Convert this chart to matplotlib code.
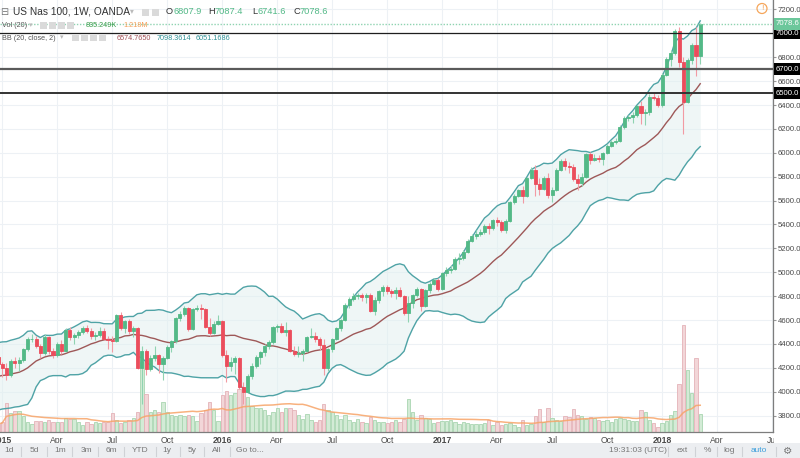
import numpy as np
import pandas as pd
import matplotlib
matplotlib.use('agg')
import matplotlib.pyplot as plt
from matplotlib.patches import Rectangle, Circle

plt.rcParams['font.family'] = ['Liberation Sans', 'DejaVu Sans']

# US Nas 100 weekly candles, first bar = week of 29 Dec 2014, last = week of 5 Mar 2018
opens = [4290, 4230, 4196, 4140, 4260, 4240, 4265, 4357, 4441, 4443, 4382, 4322, 4455, 4340, 4306, 4399, 4345, 4518, 4456, 4474,
         4496, 4536, 4509, 4469, 4471, 4505, 4445, 4437, 4424, 4641, 4534, 4589, 4510, 4532, 4197, 4344, 4190, 4285, 4308, 4230,
         4283, 4374, 4422, 4615, 4648, 4700, 4525, 4690, 4702, 4693, 4540, 4493, 4570, 4593, 4306, 4218, 4250, 4280, 4042, 3995,
         4130, 4215, 4290, 4330, 4380, 4415, 4540, 4548, 4500, 4520, 4341, 4320, 4325, 4340, 4460, 4470, 4440, 4390, 4200, 4360,
         4440, 4530, 4600, 4730, 4780, 4800, 4810, 4790, 4810, 4680, 4770, 4840, 4875, 4840, 4830, 4850, 4800, 4660, 4740, 4810,
         4860, 4720, 4850, 4900, 4935, 4863, 4990, 5020, 5030, 5110, 5120, 5170, 5260, 5300, 5320, 5340, 5385, 5370, 5436, 5420,
         5350, 5430, 5585, 5640, 5690, 5640, 5790, 5860, 5740, 5700, 5790, 5650, 5690, 5860, 5930, 5890, 5880, 5780, 5750, 5800,
         5990, 5940, 5960, 5950, 6000, 6060, 6090, 6100, 6220, 6290, 6300, 6320, 6390, 6330, 6340, 6470, 6460, 6396, 6653, 6784,
         6834, 7022, 6759, 6426, 6778, 6905, 6807.9]
highs = [4310, 4250, 4240, 4275, 4290, 4290, 4370, 4455, 4480, 4470, 4400, 4480, 4470, 4370, 4420, 4430, 4530, 4540, 4490, 4520,
         4550, 4555, 4530, 4500, 4540, 4530, 4470, 4470, 4650, 4670, 4600, 4610, 4550, 4545, 4380, 4360, 4310, 4380, 4320, 4300,
         4390, 4430, 4625, 4680, 4720, 4710, 4700, 4725, 4735, 4700, 4620, 4590, 4640, 4600, 4350, 4290, 4300, 4290, 4080, 4150,
         4240, 4310, 4340, 4400, 4430, 4550, 4570, 4575, 4585, 4525, 4380, 4380, 4360, 4470, 4530, 4500, 4460, 4440, 4370, 4450,
         4545, 4610, 4740, 4790, 4825, 4830, 4825, 4830, 4830, 4790, 4850, 4890, 4890, 4860, 4880, 4880, 4810, 4800, 4820, 4880,
         4870, 4860, 4915, 4955, 4950, 5000, 5040, 5060, 5125, 5160, 5185, 5275, 5320, 5350, 5360, 5400, 5410, 5450, 5460, 5440,
         5445, 5595, 5655, 5700, 5720, 5800, 5880, 5900, 5790, 5810, 5830, 5710, 5870, 5950, 5960, 5920, 5910, 5820, 5830, 6000,
         6005, 5990, 5985, 6010, 6070, 6110, 6120, 6235, 6310, 6320, 6340, 6400, 6430, 6370, 6490, 6500, 6480, 6670, 6800, 6860,
         7040, 7050, 6800, 6795, 6920, 7050, 7087.4]
lows = [4215, 4120, 4100, 4125, 4200, 4170, 4250, 4345, 4420, 4370, 4280, 4310, 4320, 4280, 4290, 4320, 4335, 4430, 4400, 4450,
        4485, 4490, 4440, 4430, 4460, 4435, 4360, 4330, 4420, 4520, 4490, 4480, 4460, 4190, 3900, 4140, 4170, 4260, 4160, 4100,
        4270, 4330, 4410, 4590, 4630, 4510, 4520, 4680, 4610, 4530, 4470, 4480, 4560, 4290, 4080, 4170, 4150, 4020, 3900, 3990,
        4110, 4200, 4230, 4300, 4360, 4400, 4500, 4490, 4470, 4330, 4300, 4290, 4260, 4330, 4450, 4420, 4350, 4140, 4170, 4330,
        4430, 4510, 4590, 4700, 4760, 4780, 4760, 4740, 4670, 4640, 4740, 4800, 4820, 4790, 4780, 4790, 4640, 4580, 4700, 4790,
        4680, 4710, 4830, 4890, 4840, 4855, 4970, 4990, 5020, 5070, 5100, 5160, 5250, 5280, 5300, 5320, 5320, 5350, 5390, 5340,
        5330, 5420, 5570, 5630, 5580, 5630, 5780, 5640, 5650, 5690, 5620, 5590, 5680, 5850, 5860, 5830, 5760, 5690, 5720, 5790,
        5910, 5930, 5920, 5900, 5990, 6050, 6070, 6090, 6200, 6270, 6250, 6300, 6240, 6230, 6320, 6440, 6380, 6380, 6640, 6730,
        6820, 6720, 6160, 6420, 6740, 6640, 6741.6]
closes = [4230, 4196, 4140, 4260, 4240, 4265, 4357, 4441, 4443, 4382, 4322, 4455, 4340, 4306, 4399, 4345, 4518, 4456, 4474, 4496,
          4536, 4509, 4469, 4471, 4505, 4445, 4437, 4424, 4641, 4534, 4589, 4510, 4532, 4197, 4344, 4190, 4285, 4308, 4230, 4283,
          4374, 4422, 4615, 4648, 4700, 4525, 4690, 4702, 4693, 4540, 4493, 4570, 4593, 4306, 4218, 4250, 4280, 4042, 3995, 4130,
          4215, 4290, 4330, 4380, 4415, 4540, 4548, 4500, 4520, 4341, 4320, 4325, 4340, 4460, 4470, 4440, 4390, 4200, 4360, 4440,
          4530, 4600, 4730, 4780, 4800, 4810, 4790, 4810, 4680, 4770, 4840, 4875, 4840, 4830, 4850, 4800, 4660, 4740, 4810, 4860,
          4720, 4850, 4900, 4935, 4863, 4990, 5020, 5030, 5110, 5120, 5170, 5260, 5300, 5320, 5340, 5385, 5370, 5436, 5420, 5350,
          5430, 5585, 5640, 5690, 5640, 5790, 5860, 5740, 5700, 5790, 5650, 5690, 5860, 5930, 5890, 5880, 5780, 5750, 5800, 5990,
          5940, 5960, 5950, 6000, 6060, 6090, 6100, 6220, 6290, 6300, 6320, 6390, 6330, 6340, 6470, 6460, 6396, 6653, 6784, 6834,
          7022, 6759, 6426, 6778, 6905, 6807.9, 7078.6]
# volume in thousands
volumes_k = [371, 464, 1346, 882, 974, 960, 742, 464, 371, 510, 520, 464, 557, 470, 455, 468, 650, 603, 610, 464,
             325, 470, 371, 462, 418, 466, 458, 882, 557, 418, 464, 557, 650, 928, 3248, 1763, 928, 1021, 935, 1392,
             920, 789, 742, 795, 750, 780, 738, 510, 882, 1021, 1392, 1015, 510, 1717, 1902, 1710, 1810, 1995, 2088, 1624,
             1206, 1114, 1120, 1021, 789, 928, 1114, 935, 1105, 1118, 1021, 789, 603, 835, 557, 464, 560, 1299, 1021, 928,
             789, 603, 792, 557, 464, 600, 468, 418, 696, 552, 464, 470, 418, 460, 557, 464, 603, 1531, 928, 557,
             789, 650, 603, 418, 464, 510, 515, 557, 464, 371, 462, 418, 371, 375, 368, 418, 557, 325, 464, 330,
             371, 418, 325, 232, 557, 322, 371, 742, 1067, 464, 1114, 650, 557, 510, 742, 696, 1067, 789, 745, 603,
             700, 650, 560, 510, 555, 464, 605, 648, 603, 557, 512, 508, 1021, 928, 554, 418, 232, 420, 510, 789,
             974, 2227, 4965, 2877, 1810, 3434, 835.249]
# closes of the 19 weeks before the first bar (only used to start the bands)
warmup_closes = [4040, 4082, 4093, 4070, 4120, 4040, 4030, 3860, 3820, 3990, 4120, 4150, 4230, 4300, 4335, 4300, 4170, 4300, 4290]

tick_pos = [1, 14, 27, 40, 53, 66, 79, 92, 105, 118, 131, 144, 157, 170, 183]
tick_lbl = ['2015', 'Apr', 'Jul', 'Oct', '2016', 'Apr', 'Jul', 'Oct', '2017', 'Apr', 'Jul', 'Oct', '2018', 'Apr', 'Jul']
hlines = [7000, 6700, 6500]

UP, DOWN = '#53b987', '#eb4d5c'
TXT = '#4a4a4a'

o = np.array(opens, float)
h = np.array(highs, float)
l = np.array(lows, float)
c = np.array(closes, float)
v = np.array(volumes_k, float)
x = np.arange(len(c))
up = c >= o

allc = pd.Series(warmup_closes + closes, dtype=float)
basis = allc.rolling(20).mean().values[-len(c):]
dev = allc.rolling(20).std(ddof=0).values[-len(c):]
upper = basis + 2 * dev
lower = basis - 2 * dev
vol_ma = pd.Series(v).rolling(20, min_periods=1).mean().values

fig = plt.figure(figsize=(8, 4.58), dpi=100)
ax = fig.add_axes([0, 26 / 458, 773 / 800, 432 / 458])
ax.set_xlim(0.47, 183.2)
ax.set_ylim(3663, 7279)

ax.grid(color='#edf1f5', lw=0.8, zorder=0)
ax.set_axisbelow(True)

# volume overlay, heights as a fraction of the pane
VOL_TOP = 20045.0
xt = ax.get_xaxis_transform()
ax.bar(x, v / VOL_TOP, width=0.8, bottom=0, transform=xt,
       color=np.where(up, '#d3ebd6', '#f2d6d8'),
       edgecolor=np.where(up, '#a9d6b1', '#e4b3b8'), lw=0.6, zorder=2)
ax.plot(x, vol_ma / VOL_TOP, transform=xt, color='#f7a468', lw=1.1, alpha=0.85, zorder=3)

# bollinger bands
ax.fill_between(x, lower, upper, color='#e2f0f0', alpha=0.55, lw=0, zorder=1)
ax.plot(x, upper, color='#4fa3a6', lw=1.0, zorder=4)
ax.plot(x, lower, color='#4fa3a6', lw=1.0, zorder=4)
ax.plot(x, basis, color='#9e5858', lw=1.0, zorder=4)

# candles
cols = np.where(up, UP, DOWN)
wick_cols = np.where(up, '#8fd3b1', '#f29aa3')
ax.vlines(x, l, h, colors=wick_cols, lw=0.8, zorder=5)
ax.bar(x, c - o, bottom=o, width=0.72, color=cols, edgecolor=cols, lw=0.6, zorder=6)

# horizontal rays and last price
ax.axhline(hlines[0], color='#1e1e1e', lw=0.9, zorder=7)
ax.axhline(hlines[1], color='#5a5a5a', lw=1.6, zorder=7)
ax.axhline(hlines[2], color='#333333', lw=1.4, zorder=7)
ax.axhline(c[-1], color='#8fd3b1', lw=1.0, ls=(0, (1, 1.2)), zorder=7)

yt = ax.get_yaxis_transform()
for val in hlines:
    ax.text(1.004, val, '%.1f' % val, transform=yt, ha='left', va='center', fontsize=5.6, color='white',
            clip_on=False, zorder=20, bbox=dict(boxstyle='square,pad=0.3', fc='black', ec='none'))
ax.text(1.004, c[-1], '%.1f' % c[-1], transform=yt, ha='left', va='center', fontsize=5.6, color='white',
        clip_on=False, zorder=20, bbox=dict(boxstyle='square,pad=0.3', fc='#6cc79b', ec='none'))

# axes
ax.yaxis.tick_right()
ax.set_yticks(np.arange(3800, 7201, 200))
ax.yaxis.set_major_formatter(matplotlib.ticker.FormatStrFormatter('%.1f'))
ax.tick_params(axis='y', labelsize=5.6, labelcolor=TXT, color='#999999', length=2, pad=1.5)
ax.set_xticks(tick_pos)
ax.set_xticklabels(tick_lbl)
ax.tick_params(axis='x', labelsize=6.2, labelcolor=TXT, length=0, pad=3)
for t in ax.get_xticklabels():
    if t.get_text().isdigit():
        t.set_fontweight('bold')
for s in ['top', 'left']:
    ax.spines[s].set_visible(False)
for s in ['right', 'bottom']:
    ax.spines[s].set_color('#7d7d7d')
    ax.spines[s].set_linewidth(0.9)

# overlay in pixel coordinates for the header and toolbar
ov = fig.add_axes([0, 0, 1, 1], zorder=10)
ov.set_xlim(0, 800)
ov.set_ylim(458, 0)
ov.axis('off')
ov.patch.set_alpha(0)

ov.add_patch(Rectangle((774, 433), 26, 10, fc='white', ec='none'))
ov.add_patch(Rectangle((0, 443), 800, 15, fc='#eceef1', ec='none'))


def buttons(x0, y0, n, size=7):
    for k in range(n):
        ov.add_patch(Rectangle((x0 + k * (size + 2.5), y0 - size / 2), size, size, fc='#dadada', ec='none'))


ov.text(0.5, 12, '\u229f', fontsize=7, color='#777777', va='center', ha='left')
ov.text(13, 12, 'US Nas 100, 1W, OANDA', fontsize=7.3, color='#333333', va='center', ha='left')
ov.text(130, 12, '\u25be', fontsize=5.5, color='#bbbbbb', va='center', ha='left')
buttons(142, 12, 2)
for lx, letter, lw_, val in [(166, 'O', 7.2, '6807.9'), (208, 'H', 6.7, '7087.4'),
                             (252, 'L', 5.3, '6741.6'), (293, 'C', 6.7, '7078.6')]:
    ov.text(lx, 12, letter, fontsize=6.7, color='#333333', va='center', ha='left')
    ov.text(lx + lw_, 12, val, fontsize=6.7, color=UP, va='center', ha='left')

ov.text(2, 25.5, 'Vol (20)', fontsize=5.2, color='#555555', va='center', ha='left')
ov.text(29, 25.5, '\u25be', fontsize=5, color='#bbbbbb', va='center', ha='left')
buttons(40, 25.5, 4, 6.5)
ov.text(86, 25.5, '835.249K', fontsize=5.2, color='#3a9d4a', va='center', ha='left')
ov.text(123, 25.5, '1.218M', fontsize=5.2, color='#f59d55', va='center', ha='left')

ov.text(2, 38, 'BB (20, close, 2)', fontsize=5.2, color='#555555', va='center', ha='left')
ov.text(60, 38, '\u25be', fontsize=5, color='#bbbbbb', va='center', ha='left')
buttons(72, 38, 4, 6.5)
ov.text(117, 38, '6574.7650', fontsize=5.2, color='#a04f55', va='center', ha='left')
ov.text(157, 38, '7098.3614', fontsize=5.2, color='#2f9095', va='center', ha='left')
ov.text(196, 38, '6051.1686', fontsize=5.2, color='#2f9095', va='center', ha='left')

ov.add_patch(Circle((762, 8.5), 5, fill=False, ec='#f5a65b', lw=0.9))
ov.text(762, 8.8, '!', fontsize=6, color='#f5a65b', ha='center', va='center')

# bottom toolbar
left_items = [(9, '1d'), (34, '5d'), (60, '1m'), (86, '3m'), (111, '6m'), (140, 'YTD'), (167, '1y'),
              (192, '5y'), (217, 'All'), (250, 'Go to...')]
for px, s in left_items:
    ov.text(px, 451, s, fontsize=6, color='#777777', ha='center', va='center')
for px in [21, 47, 72, 98, 124, 156, 180, 204, 230, 668, 695, 717, 742, 776]:
    ov.plot([px, px], [446.5, 455.5], color='#cfd2d6', lw=0.8)
right_items = [(638, '19:31:03 (UTC)', '#777777'), (682, 'ext', '#777777'), (707, '%', '#777777'),
               (729, 'log', '#777777'), (759, 'auto', '#3d9fdc')]
for px, s, col in right_items:
    ov.text(px, 451, s, fontsize=6, color=col, ha='center', va='center')
ov.text(788, 451, '\u2699', fontsize=7.5, color='#777777', ha='center', va='center')

fig.savefig('out.png', dpi=100)
